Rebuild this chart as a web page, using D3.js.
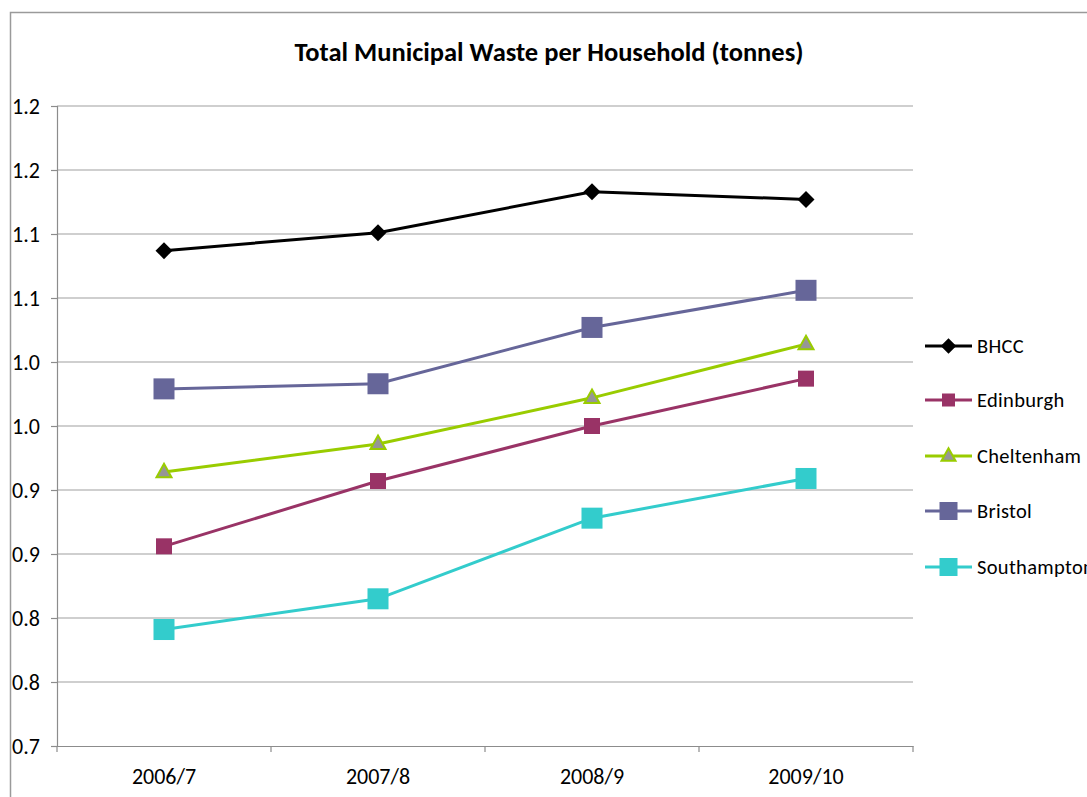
<!DOCTYPE html>
<html>
<head>
<meta charset="utf-8">
<script src="https://cdn.jsdelivr.net/npm/d3@7"></script>
<style>
  html, body { margin: 0; padding: 0; background: #fff; }
  svg { display: block; font-family: Carlito, Calibri, Lato, "Open Sans", sans-serif; }
</style>
</head>
<body>
<svg id="chart" width="1087" height="797"></svg>
<script>
const categories = ["2006/7", "2007/8", "2008/9", "2009/10"];
const seriesNames = ["BHCC", "Edinburgh", "Cheltenham", "Bristol", "Southampton"];
const bhcc        = [1.087, 1.101, 1.133, 1.127];
const edinburgh   = [0.856, 0.907, 0.950, 0.987];
const cheltenham  = [0.914, 0.936, 0.972, 1.014];
const bristol     = [0.979, 0.983, 1.027, 1.056];
const southampton = [0.791, 0.815, 0.878, 0.909];
const yTicks = [0.70, 0.75, 0.80, 0.85, 0.90, 0.95, 1.00, 1.05, 1.10, 1.15, 1.20];
const yTickLabels = ["0.7", "0.8", "0.8", "0.9", "0.9", "1.0", "1.0", "1.1", "1.1", "1.2", "1.2"];
const title = "Total Municipal Waste per Household (tonnes)";

const seriesValues = [bhcc, edinburgh, cheltenham, bristol, southampton];
const styles = [
  {line: "#000000", fill: "#000000", stroke: "none", kind: "diamond", size: 12},
  {line: "#993366", fill: "#993366", stroke: "none", kind: "square", size: 16},
  {line: "#99CC00", fill: "#969696", stroke: "#99CC00", kind: "triangle", size: 15},
  {line: "#666699", fill: "#666699", stroke: "none", kind: "square", size: 21},
  {line: "#33CCCC", fill: "#33CCCC", stroke: "none", kind: "square", size: 21}
];

const svg = d3.select("#chart");
const m = {left: 57, right: 913, top: 106, bottom: 746};
const FONT = "Carlito, Calibri, Lato, sans-serif";

// outer chart border
svg.append("path")
  .attr("d", `M10.5,${1100} L10.5,12.5 L1100,12.5`)
  .attr("fill", "none").attr("stroke", "#9a9a9a").attr("stroke-width", 1.5);

const x = d3.scaleBand().domain(categories).range([m.left, m.right]);
const y = d3.scaleLinear().domain([0.7, 1.2]).range([m.bottom, m.top]);

// gridlines
svg.append("g").selectAll("line").data(yTicks.slice(1)).join("line")
  .attr("x1", m.left).attr("x2", m.right)
  .attr("y1", d => y(d)).attr("y2", d => y(d))
  .attr("stroke", "#a0a0a0").attr("stroke-width", 1.2);

// y axis
const yAxis = d3.axisLeft(y).tickValues(yTicks).tickSize(6)
  .tickFormat((d, i) => yTickLabels[i]);
const gy = svg.append("g").attr("transform", `translate(${m.left},0)`).call(yAxis);
gy.select(".domain").attr("stroke", "#8c8c8c").attr("stroke-width", 1.2);
gy.selectAll(".tick line").attr("stroke", "#8c8c8c").attr("stroke-width", 1.2);
gy.selectAll(".tick text").attr("font-size", 22).attr("fill", "#000")
  .attr("text-anchor", "start").attr("x", -45).attr("font-family", FONT);

// x axis
const xAxis = d3.axisBottom(x).tickSize(0).tickPadding(22);
const gx = svg.append("g").attr("transform", `translate(0,${m.bottom})`).call(xAxis);
gx.select(".domain").attr("stroke", "#8c8c8c").attr("stroke-width", 1.2);
gx.selectAll(".tick text").attr("font-size", 22).attr("fill", "#000")
  .attr("font-family", FONT);
// category boundary ticks
const bounds = categories.map(c => x(c)).concat([x(categories[categories.length - 1]) + x.bandwidth()]);
gx.append("g").selectAll("line").data(bounds).join("line")
  .attr("x1", d => d).attr("x2", d => d).attr("y1", 0).attr("y2", 6)
  .attr("stroke", "#8c8c8c").attr("stroke-width", 1.2);

// title
svg.append("text").attr("x", 549).attr("y", 61).attr("text-anchor", "middle")
  .attr("font-size", 26.5).attr("font-weight", "bold").text(title);

const cx = c => x(c) + x.bandwidth() / 2;
const line = d3.line().x((d, i) => cx(categories[i])).y(d => y(d));

function marker(g, st, px, py, s) {
  if (st.kind === "square") {
    g.append("rect").attr("x", px - s / 2).attr("y", py - s / 2)
      .attr("width", s).attr("height", s).attr("fill", st.fill);
  } else if (st.kind === "diamond") {
    g.append("rect").attr("x", -s / 2).attr("y", -s / 2).attr("width", s).attr("height", s)
      .attr("transform", `translate(${px},${py}) rotate(45)`).attr("fill", st.fill);
  } else {
    const h = s * 0.9;
    g.append("path")
      .attr("d", `M${px},${py - h * 0.62} L${px + s / 2},${py + h * 0.38} L${px - s / 2},${py + h * 0.38} Z`)
      .attr("fill", st.fill).attr("stroke", st.stroke).attr("stroke-width", 2).attr("stroke-linejoin", "miter");
  }
}

seriesValues.forEach((vals, si) => {
  const st = styles[si];
  const g = svg.append("g");
  g.append("path").datum(vals).attr("d", line)
    .attr("fill", "none").attr("stroke", st.line).attr("stroke-width", 3);
  vals.forEach((v, i) => marker(g, st, cx(categories[i]), y(v), st.size));
});

// legend
const legY = [346, 400, 456, 511, 567];
const legSizes = [11, 13, 14, 18, 18];
seriesNames.forEach((name, si) => {
  const st = styles[si];
  const g = svg.append("g");
  const ly = legY[si];
  g.append("line").attr("x1", 925).attr("x2", 972).attr("y1", ly).attr("y2", ly)
    .attr("stroke", st.line).attr("stroke-width", 3);
  marker(g, st, 948.5, ly, legSizes[si]);
  g.append("text").attr("x", 977).attr("y", ly).attr("dy", "0.35em")
    .attr("font-size", 20.5).attr("letter-spacing", 0.3).text(name);
});
</script>
</body>
</html>
